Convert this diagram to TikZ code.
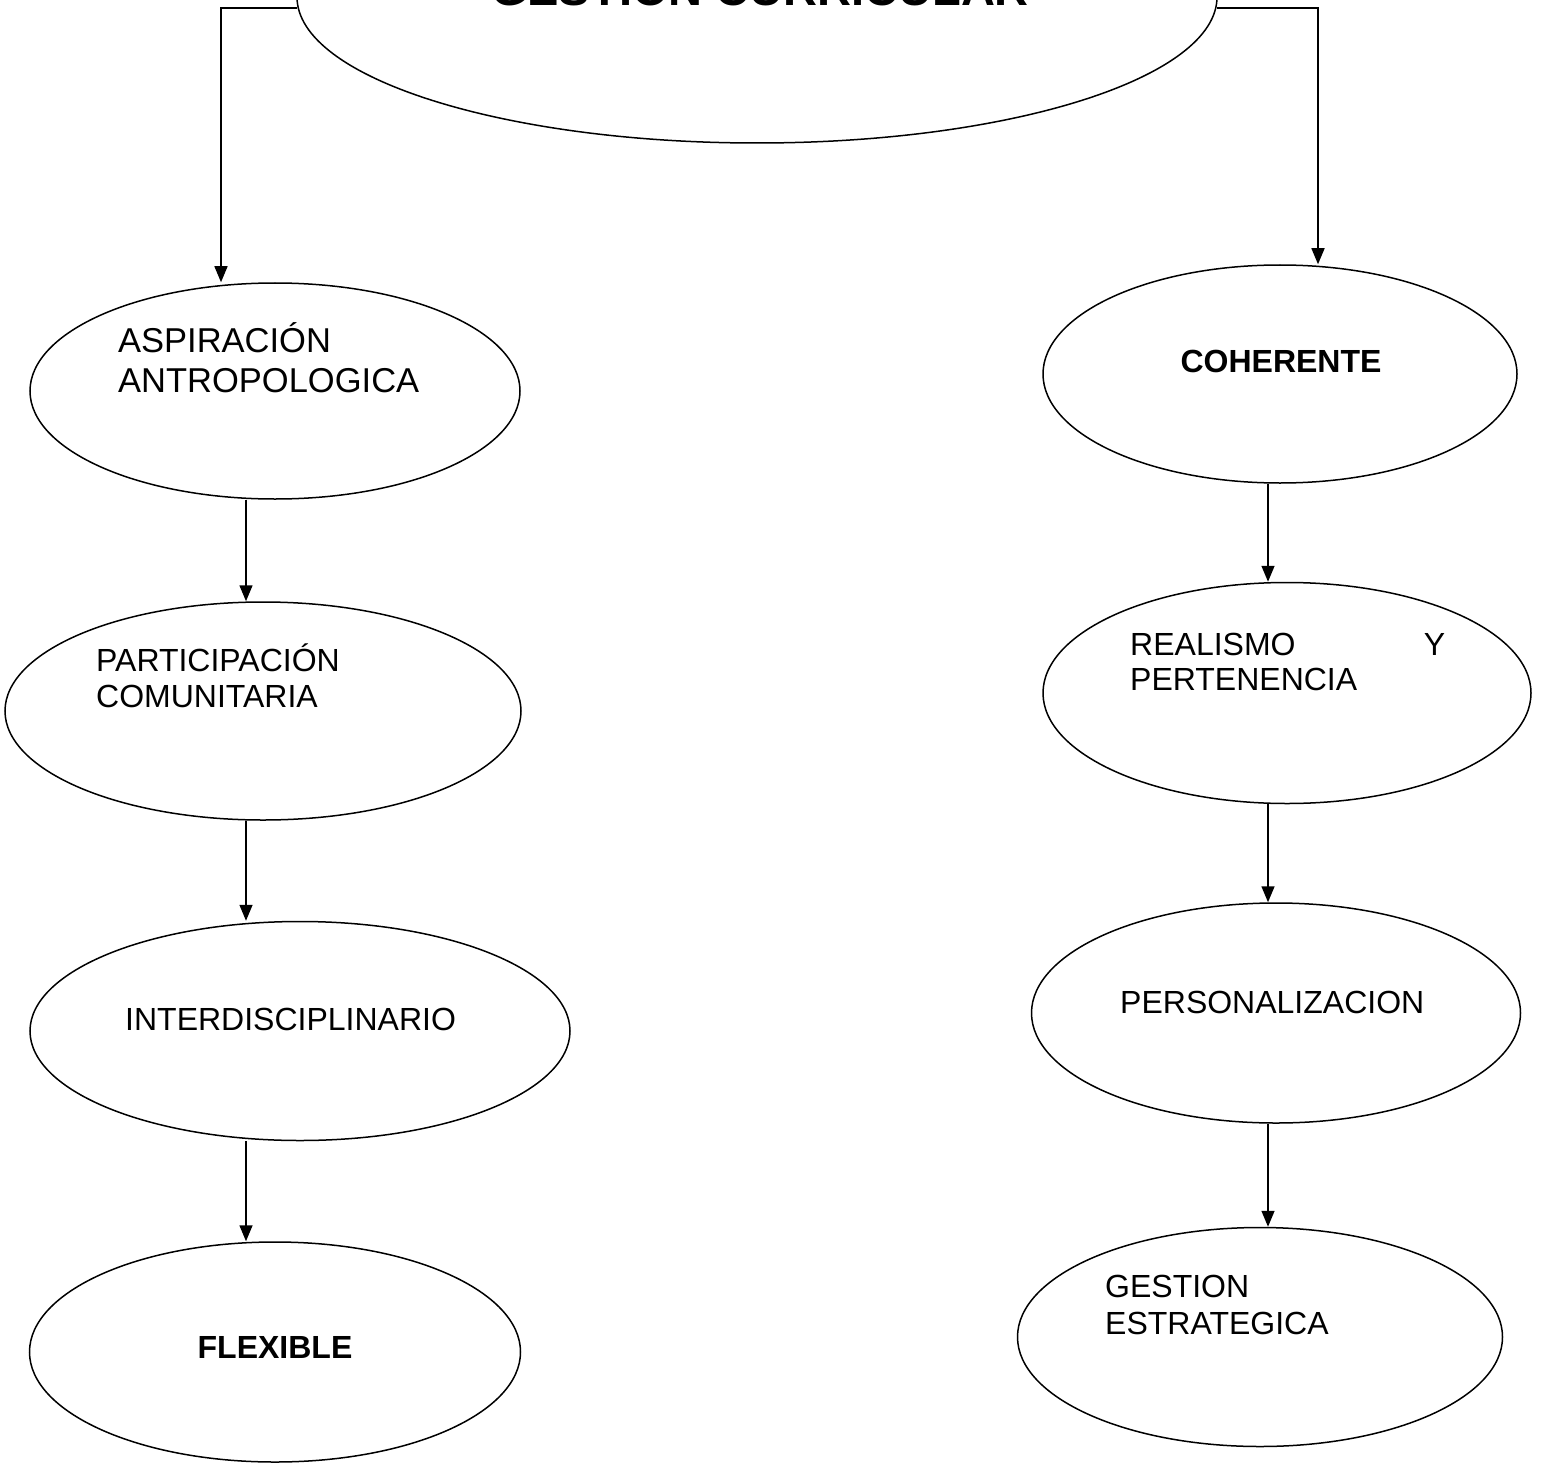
\documentclass[tikz,border=0pt]{standalone}
\usepackage{fontspec}
\setmainfont{Liberation Sans}
\usetikzlibrary{arrows.meta,shapes.geometric}
\begin{document}
\begin{tikzpicture}[x=1pt,y=-1pt,
  oval/.style={draw,ellipse,line width=1.5pt,inner sep=0pt},
  conn/.style={line width=1.5pt,-{Triangle[length=16pt,width=13pt]}},
  lbl/.style={anchor=base west,inner sep=0pt,font=\fontsize{32}{38}\selectfont},
  biglbl/.style={anchor=base west,inner sep=0pt,font=\fontsize{34.5}{40}\selectfont},
  blbl/.style={anchor=base,inner sep=0pt,font=\bfseries\fontsize{32}{38}\selectfont},
  ]
\useasboundingbox (0,0) rectangle (1544,1463);
\fill[white] (0,0) rectangle (1544,1463);
% top ellipse (cut by the page edge)
\node[oval,minimum width=920pt,minimum height=292pt] (top) at (757,-3) {};
\node[anchor=base,inner sep=0pt,font=\bfseries\fontsize{47}{56}\selectfont] (title) at (760,6) {GESTION CURRICULAR};
% left column
\node[oval,minimum width=490pt,minimum height=216pt] (e1) at (275,391) {};
\node[oval,minimum width=516pt,minimum height=218pt] (e2) at (263,711) {};
\node[oval,minimum width=540pt,minimum height=219pt] (e3) at (300,1031) {};
\node[oval,minimum width=491pt,minimum height=220pt] (e4) at (275,1352) {};
% right column
\node[oval,minimum width=474pt,minimum height=218pt] (e5) at (1280,374) {};
\node[oval,minimum width=488pt,minimum height=221pt] (e6) at (1287,693) {};
\node[oval,minimum width=489pt,minimum height=220pt] (e7) at (1276,1013) {};
\node[oval,minimum width=485pt,minimum height=219pt] (e8) at (1260,1337) {};
% texts
\node[biglbl] (t1a) at (118,352) {ASPIRACIÓN};
\node[biglbl] (t1b) at (118,392) {ANTROPOLOGICA};
\node[lbl] (t2a) at (96,671) {PARTICIPACIÓN};
\node[lbl] (t2b) at (96,707) {COMUNITARIA};
\node[lbl] (t3) at (125,1030) {INTERDISCIPLINARIO};
\node[blbl] (t4) at (275,1358) {FLEXIBLE};
\node[blbl] (t5) at (1281,372) {COHERENTE};
\node[lbl] (t6a) at (1130,655) {\makebox[315pt][l]{REALISMO\hfill Y}};
\node[lbl] (t6b) at (1130,690) {PERTENENCIA};
\node[lbl] (t7) at (1120,1013) {PERSONALIZACION};
\node[lbl] (t8a) at (1105,1297) {GESTION};
\node[lbl] (t8b) at (1105,1334) {ESTRATEGICA};
% helper coordinates
\coordinate (lx) at (246,0);
\coordinate (rx) at (1268,0);
\coordinate (lt) at (221,0);
\coordinate (rt) at (1318,0);
\coordinate (tl) at (297,8);
\coordinate (tr) at (1217,8);
% connectors from the top ellipse
\draw[conn] (tl) -- (tl -| lt) -- (e1.north -| lt);
\draw[conn] (tr) -- (tr -| rt) -- (e5.north -| rt);
% left chain
\draw[conn] (e1.south -| lx) -- (e2.north -| lx);
\draw[conn] (e2.south -| lx) -- (e3.north -| lx);
\draw[conn] (e3.south -| lx) -- (e4.north -| lx);
% right chain
\draw[conn] (e5.south -| rx) -- (e6.north -| rx);
\draw[conn] (e6.south -| rx) -- (e7.north -| rx);
\draw[conn] (e7.south -| rx) -- (e8.north -| rx);
\end{tikzpicture}
\end{document}
